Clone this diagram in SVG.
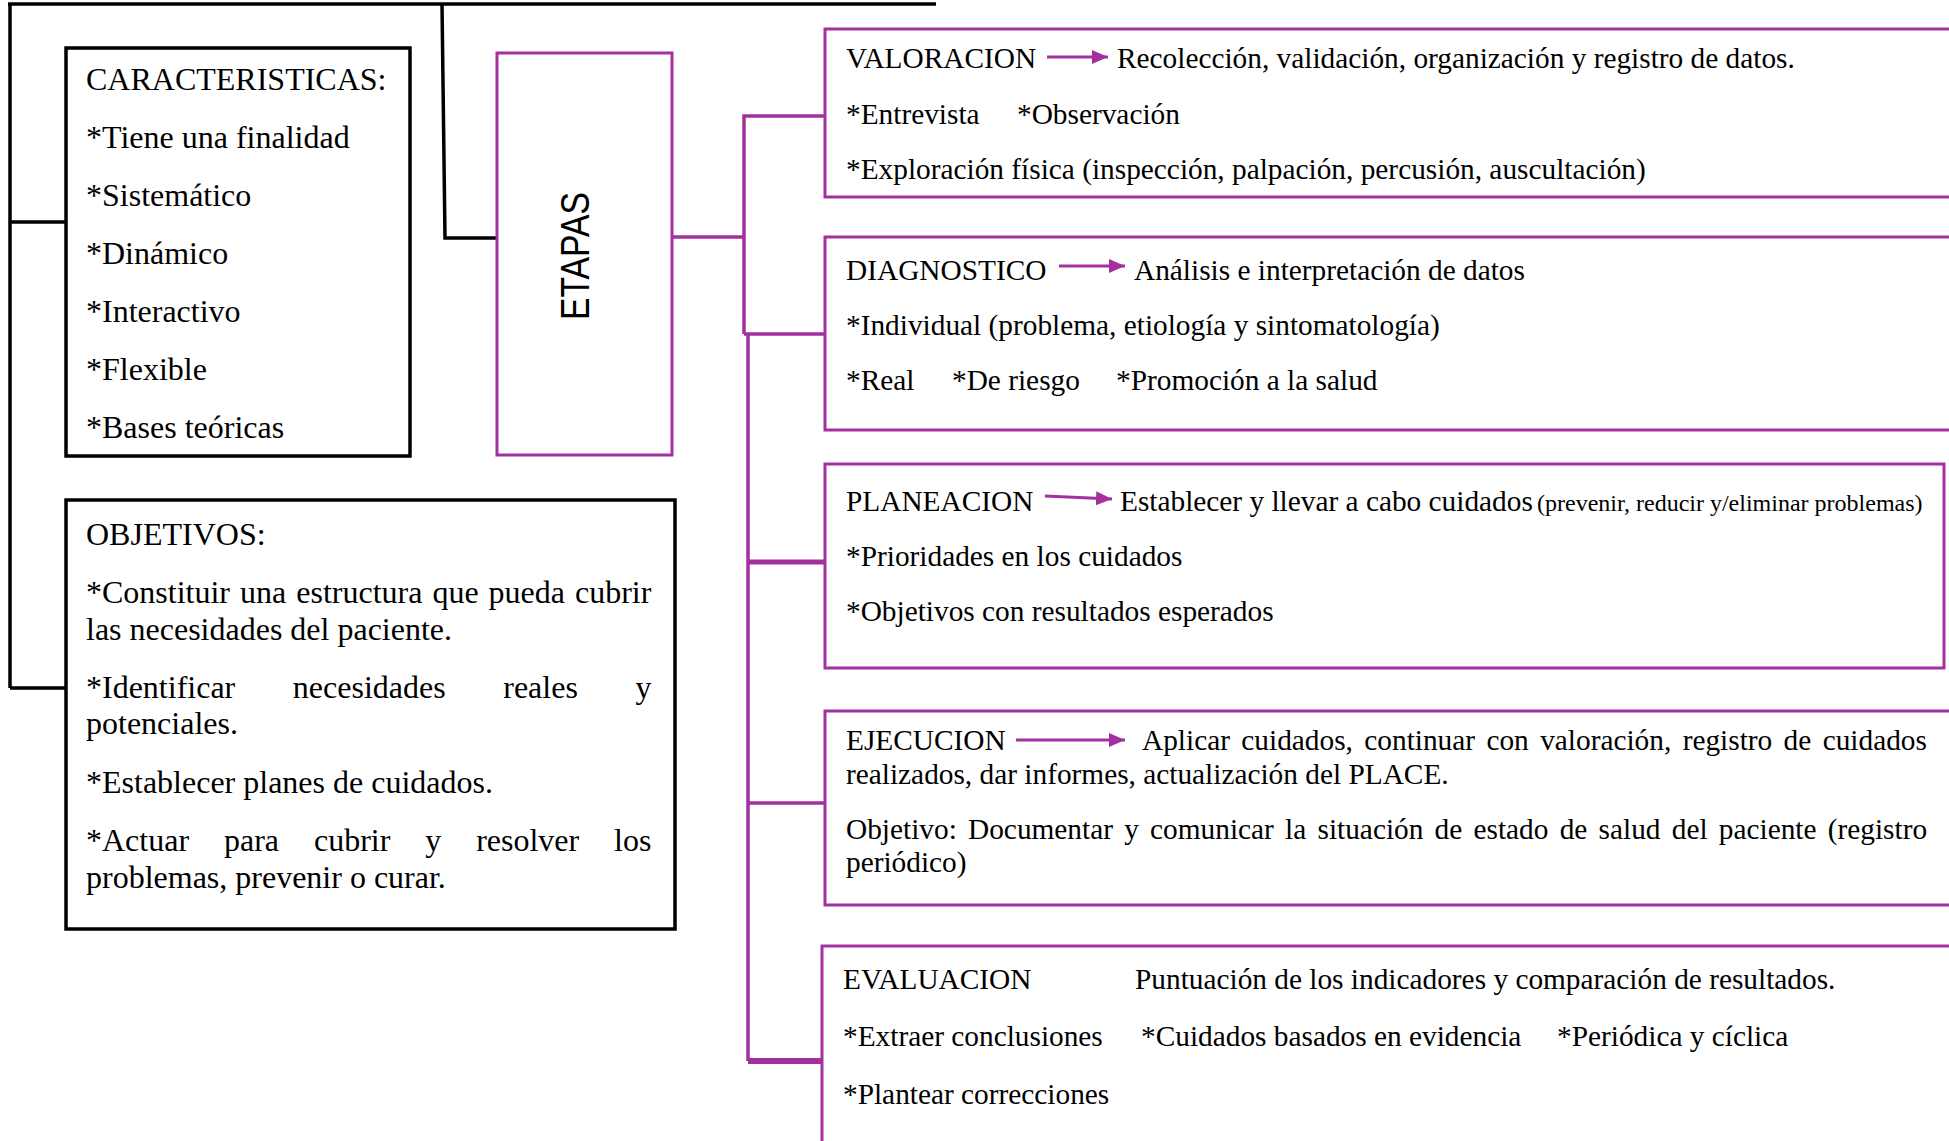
<svg xmlns="http://www.w3.org/2000/svg" width="1949" height="1141" viewBox="0 0 1949 1141">
<style>
.bk{fill:none;stroke:#000;stroke-width:3.5}
.pb{fill:none;stroke:#A3309E;stroke-width:3}
.pl{fill:none;stroke:#A3309E;stroke-width:3.5}
.t32{font-family:"Liberation Serif","Times New Roman",serif;font-size:32px;fill:#000}
.t29{font-family:"Liberation Serif","Times New Roman",serif;font-size:29.33px;fill:#000}
.t24{font-family:"Liberation Serif","Times New Roman",serif;font-size:24px;fill:#000}
.arr{stroke:#A3309E;stroke-width:3;fill:none}
</style>
<defs>
<marker id="ah" markerUnits="userSpaceOnUse" markerWidth="18" markerHeight="16" refX="16" refY="7" orient="auto">
<path d="M0,0 L16,7 L0,14 z" fill="#A3309E"/>
</marker>
</defs>
<rect width="1949" height="1141" fill="#fff"/>

<g id="connectors">
<path class="bk" d="M8,4 H936 M10,4 V688 M10,222 H66 M10,688 H66 M442,4 L445,238 H497"/>
<path class="pl" d="M672,237 H744 M825,116 H744 V334 M744,334 H825 M748,334 V1061"/>
<path class="pl" d="M748,562 H825" style="stroke-width:5"/>
<path class="pl" d="M748,803 H825"/>
<path class="pl" d="M748,1061 H822" style="stroke-width:6"/>
</g>

<g id="caracteristicas">
<rect class="bk" x="66" y="48" width="344" height="408"/>
<text class="t32" x="86" y="89.5">CARACTERISTICAS:</text>
<text class="t32" x="86" y="148">*Tiene una finalidad</text>
<text class="t32" x="86" y="206">*Sistemático</text>
<text class="t32" x="86" y="264">*Dinámico</text>
<text class="t32" x="86" y="322">*Interactivo</text>
<text class="t32" x="86" y="380">*Flexible</text>
<text class="t32" x="86" y="438">*Bases teóricas</text>
</g>

<g id="objetivos">
<rect class="bk" x="66" y="500" width="609" height="429"/>
<text class="t32" x="86" y="544.5">OBJETIVOS:</text>
<text class="t32" x="86" y="602.5" word-spacing="2">*Constituir una estructura que pueda cubrir</text>
<text class="t32" x="86" y="639.5">las necesidades del paciente.</text>
<text class="t32" x="86" y="698" word-spacing="49.6">*Identificar necesidades reales y</text>
<text class="t32" x="86" y="734">potenciales.</text>
<text class="t32" x="86" y="792.5">*Establecer planes de cuidados.</text>
<text class="t32" x="86" y="850.5" word-spacing="26.9">*Actuar para cubrir y resolver los</text>
<text class="t32" x="86" y="887.5">problemas, prevenir o curar.</text>
</g>

<g id="etapas">
<rect class="pb" x="497" y="53" width="175" height="402"/>
<text transform="translate(589,256) rotate(-90)" x="0" y="0" text-anchor="middle" font-family="'Liberation Sans',Arial,sans-serif" font-size="40" textLength="128" lengthAdjust="spacingAndGlyphs">ETAPAS</text>
</g>

<g id="valoracion">
<rect class="pb" x="825" y="29" width="1140" height="168"/>
<text class="t29" x="846" y="67.5">VALORACION</text>
<line class="arr" x1="1047" y1="57" x2="1108" y2="57" marker-end="url(#ah)"/>
<text class="t29" x="1117" y="67.5">Recolección, validación, organización y registro de datos.</text>
<text class="t29" x="846" y="123.5">*Entrevista</text>
<text class="t29" x="1017" y="123.5">*Observación</text>
<text class="t29" x="846" y="178.5">*Exploración física (inspección, palpación, percusión, auscultación)</text>
</g>

<g id="diagnostico">
<rect class="pb" x="825" y="237" width="1140" height="193"/>
<text class="t29" x="846" y="279.5">DIAGNOSTICO</text>
<line class="arr" x1="1059" y1="266" x2="1125" y2="266" marker-end="url(#ah)"/>
<text class="t29" x="1134" y="279.5">Análisis e interpretación de datos</text>
<text class="t29" x="846" y="334.5">*Individual (problema, etiología y sintomatología)</text>
<text class="t29" x="846" y="389.5">*Real</text>
<text class="t29" x="952" y="389.5">*De riesgo</text>
<text class="t29" x="1116" y="389.5">*Promoción a la salud</text>
</g>

<g id="planeacion">
<rect class="pb" x="825" y="464" width="1119" height="204"/>
<text class="t29" x="846" y="511">PLANEACION</text>
<line class="arr" x1="1045" y1="496" x2="1112" y2="499" marker-end="url(#ah)"/>
<text class="t29" x="1120" y="511">Establecer y llevar a cabo cuidados</text>
<text class="t24" x="1537" y="511">(prevenir, reducir y/eliminar problemas)</text>
<text class="t29" x="846" y="566">*Prioridades en los cuidados</text>
<text class="t29" x="846" y="621">*Objetivos con resultados esperados</text>
</g>

<g id="ejecucion">
<rect class="pb" x="825" y="711" width="1140" height="194"/>
<text class="t29" x="846" y="749.5">EJECUCION</text>
<line class="arr" x1="1016" y1="740" x2="1125" y2="740" marker-end="url(#ah)"/>
<text class="t29" x="1142" y="749.5" word-spacing="4.05">Aplicar cuidados, continuar con valoración, registro de cuidados</text>
<text class="t29" x="846" y="783.5">realizados, dar informes, actualización del PLACE.</text>
<text class="t29" x="846" y="838.5" word-spacing="3.9">Objetivo: Documentar y comunicar la situación de estado de salud del paciente (registro</text>
<text class="t29" x="846" y="871.5">periódico)</text>
</g>

<g id="evaluacion">
<rect class="pb" x="822" y="946" width="1140" height="300"/>
<text class="t29" x="843" y="988.5">EVALUACION</text>
<text class="t29" x="1135" y="988.5">Puntuación de los indicadores y comparación de resultados.</text>
<text class="t29" x="843" y="1045.5">*Extraer conclusiones</text>
<text class="t29" x="1141" y="1045.5">*Cuidados basados en evidencia</text>
<text class="t29" x="1557" y="1045.5">*Periódica y cíclica</text>
<text class="t29" x="843" y="1103.5">*Plantear correcciones</text>
</g>
</svg>
